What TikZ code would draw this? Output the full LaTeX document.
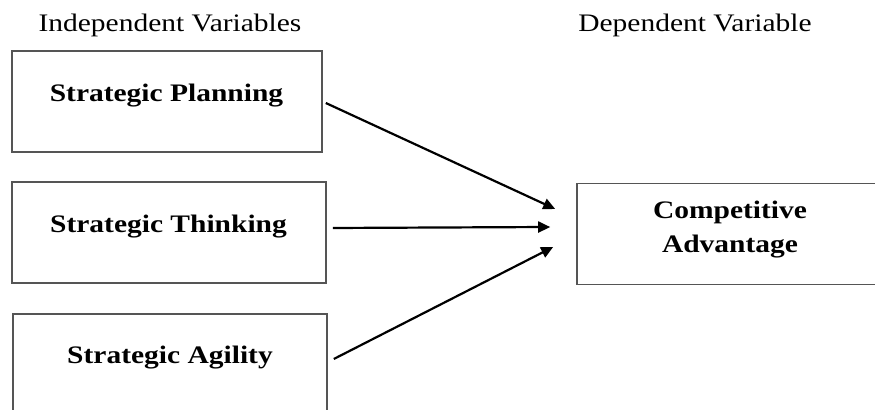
\documentclass[tikz,border=0pt]{standalone}
\usepackage{fontspec}
\setmainfont{Liberation Serif}[FakeStretch=1.17]
\usepackage{xcolor}
\usetikzlibrary{arrows.meta,calc}

\definecolor{boxline}{HTML}{555555}

\tikzset{
  varbox/.style={draw=boxline, line width=0.8pt, rectangle, inner sep=0pt},
  varlbl/.style={font=\fontsize{12.6}{17}\selectfont\bfseries, inner sep=0pt, anchor=base},
  headlbl/.style={font=\fontsize{12.6}{17}\selectfont, inner sep=0pt, anchor=base},
  link/.style={-{Triangle[length=6pt,width=5.5pt]}, line width=1.1pt, black}
}

\begin{document}
\begin{tikzpicture}[x=0.5pt, y=-0.5pt]
\newcommand{\Boxwid}{155pt}; % width of the left boxes
\newcommand{\Boxhgt}{50.5pt}; % height of the boxes

\useasboundingbox (0,0) rectangle (875,410);

% headings
\node[headlbl] (indep) at (170,32) {Independent Variables};
\node[headlbl] (dep)   at (695,32) {Dependent Variable};

% independent variables
\node[varbox, minimum width=\Boxwid, minimum height=\Boxhgt] (plan) at (167,101.5) {};
\node[varbox, minimum width=157pt, minimum height=\Boxhgt] (think) at (169,232.5) {};
\node[varbox, minimum width=157pt, minimum height=49pt] (agil) at (170,363) {};
%

\node[varlbl] (plan-t)  at (166.5,102) {Strategic Planning};
\node[varlbl] (think-t) at (168.5,233) {Strategic Thinking};
\node[varlbl] (agil-t)  at (170,364)   {Strategic Agility};

% dependent variable
\node[varbox, minimum width=160pt, minimum height=\Boxhgt] (comp) at (737,234) {};
\node[varlbl, anchor=center, align=center] (comp-t) at (730,229.5) {Competitive\\Advantage};

% links
\draw[link] ([shift={(3,1.5)}]plan.east)   -- ([shift={(-21,-25)}]comp.west);
\draw[link] ([shift={(6,-4.5)}]think.east) -- ([shift={(-26,-7)}]comp.west);
\draw[link] ([shift={(6,-4)}]agil.east)    -- ([shift={(-23,13)}]comp.west);
\end{tikzpicture}
\end{document}
